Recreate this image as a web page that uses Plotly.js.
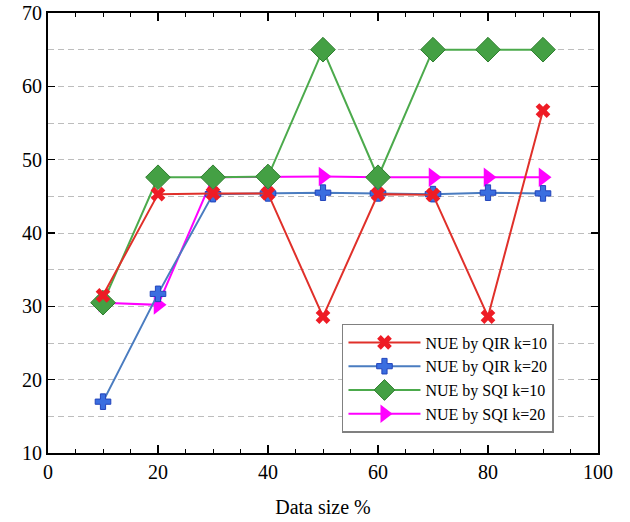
<!DOCTYPE html>
<html>
<head>
<meta charset="utf-8">
<script src="https://cdn.plot.ly/plotly-3.0.1.min.js"></script>
<style>html,body{margin:0;padding:0;background:#fff;}#chart{width:630px;height:522px;}</style>
</head>
<body>
<div id="chart"></div>
<script>
const dataSize = [10, 20, 30, 40, 50, 60, 70, 80, 90];
const qirK10 = [31.5, 45.3, 45.4, 45.4, 28.6, 45.3, 45.2, 28.6, 56.7];
const qirK20 = [17.0, 31.7, 45.3, 45.4, 45.5, 45.4, 45.3, 45.5, 45.4];
const sqiK10 = [30.5, 47.6, 47.6, 47.7, 65.0, 47.6, 65.0, 65.0, 65.0];
const sqiK20 = [30.5, 30.2, 47.6, 47.7, 47.7, 47.6, 47.6, 47.6, 47.6];
const seriesNames = ["NUE by QIR k=10", "NUE by QIR k=20", "NUE by SQI k=10", "NUE by SQI k=20"];

const serif = "Liberation Serif, Times New Roman, serif";

const traces = [
  {x: dataSize, y: sqiK20, name: seriesNames[3], legendrank: 4, mode: "lines+markers",
   line: {color: "#ff00ff", width: 2},
   marker: {symbol: "triangle-right", size: 17, color: "#ff00ff", line: {width: 0}}},
  {x: dataSize, y: qirK20, name: seriesNames[1], legendrank: 2, mode: "lines+markers",
   line: {color: "#4a7cc0", width: 2},
   marker: {symbol: "cross", size: 13, color: "#3a6ee0", line: {color: "#2244bb", width: 1}}},
  {x: dataSize, y: sqiK10, name: seriesNames[2], legendrank: 3, mode: "lines+markers",
   line: {color: "#4caa4c", width: 2},
   marker: {symbol: "diamond", size: 19, color: "#44a044", line: {color: "#2f7f2f", width: 1}}},
  {x: dataSize, y: qirK10, name: seriesNames[0], legendrank: 1, mode: "lines+markers",
   line: {color: "#e0302a", width: 2},
   marker: {symbol: "x", size: 13, color: "#ee1c25", line: {width: 0}}}
];

const layout = {
  width: 630, height: 522,
  margin: {l: 48, r: 32, t: 13, b: 69},
  paper_bgcolor: "#fff", plot_bgcolor: "#fff",
  showlegend: true,
  font: {family: serif, color: "#000"},
  xaxis: {
    range: [0, 100], dtick: 20, tick0: 0,
    showline: true, linecolor: "#000", linewidth: 2, mirror: "ticks",
    ticks: "inside", ticklen: 8, tickwidth: 1.5, tickcolor: "#000",
    minor: {dtick: 5, ticks: "inside", ticklen: 4, tickwidth: 1, tickcolor: "#000", showgrid: false},
    showgrid: false, zeroline: false,
    tickfont: {family: serif, size: 20, color: "#000"},
    title: {text: "Data size %", font: {family: serif, size: 20, color: "#000"}, standoff: 18}
  },
  yaxis: {
    range: [10, 70], dtick: 10, tick0: 10,
    showline: true, linecolor: "#000", linewidth: 2, mirror: "ticks",
    ticks: "inside", ticklen: 7, tickwidth: 1.5, tickcolor: "#000",
    showgrid: true, gridcolor: "#bdbdbd", gridwidth: 1, griddash: "6px,4px",
    minor: {dtick: 5, ticks: "", showgrid: true, gridcolor: "#bdbdbd", gridwidth: 1, griddash: "6px,4px"},
    zeroline: false,
    tickfont: {family: serif, size: 20, color: "#000"}
  },
  legend: {
    x: 0.5345, xanchor: "left", y: 0.0455, yanchor: "bottom",
    bgcolor: "#fff", bordercolor: "#808080", borderwidth: 1.5,
    font: {family: serif, size: 16, color: "#000"},
    itemwidth: 72, tracegroupgap: 0
  }
};

Plotly.newPlot("chart", traces, layout, {displayModeBar: false, staticPlot: true});
</script>
</body>
</html>
